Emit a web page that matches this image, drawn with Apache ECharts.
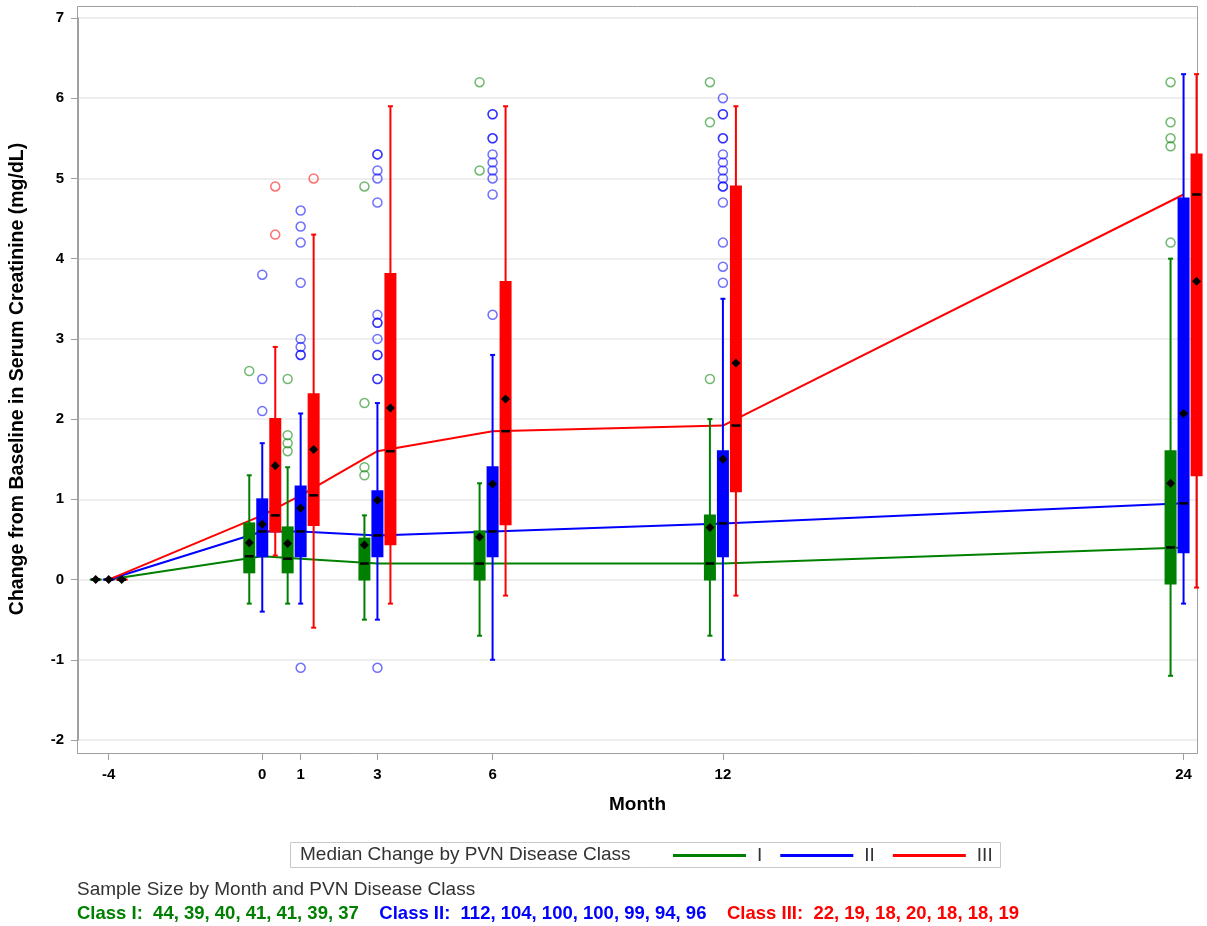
<!DOCTYPE html>
<html>
<head>
<meta charset="utf-8">
<title>Change from Baseline in Serum Creatinine</title>
<script src="https://cdn.jsdelivr.net/npm/echarts@6/dist/echarts.min.js"></script>
<style>
  html, body { margin: 0; padding: 0; background: #fff; }
  #main { width: 1207px; height: 926px; }
</style>
</head>
<body>
<div id="main"></div>
<script>
// months on the x axis (ticks too)
let months = [-4, 0, 1, 3, 6, 12, 24];

// box stats per month: [low whisker, q1, median, q3, high whisker, mean]
let boxI = [
    [0, 0, 0, 0, 0, 0],
    [-0.3, 0.09, 0.29, 0.70, 1.3, 0.46],
    [-0.3, 0.09, 0.26, 0.65, 1.4, 0.45],
    [-0.5, 0.0, 0.20, 0.51, 0.8, 0.43],
    [-0.7, 0.0, 0.20, 0.60, 1.2, 0.53],
    [-0.7, 0.0, 0.20, 0.80, 2.0, 0.65],
    [-1.2, -0.05, 0.40, 1.60, 4.0, 1.20]
];
let boxII = [
    [0, 0, 0, 0, 0, 0],
    [-0.4, 0.29, 0.60, 1.00, 1.7, 0.69],
    [-0.3, 0.29, 0.60, 1.16, 2.07, 0.89],
    [-0.5, 0.29, 0.55, 1.10, 2.2, 0.99],
    [-1.0, 0.29, 0.60, 1.40, 2.8, 1.19],
    [-1.0, 0.29, 0.70, 1.60, 3.5, 1.50],
    [-0.3, 0.34, 0.95, 4.75, 6.3, 2.07]
];
let boxIII = [
    [0, 0, 0, 0, 0, 0],
    [0.3, 0.60, 0.80, 2.00, 2.9, 1.42],
    [-0.6, 0.68, 1.05, 2.31, 4.3, 1.62],
    [-0.3, 0.44, 1.60, 3.81, 5.9, 2.14],
    [-0.2, 0.69, 1.85, 3.71, 5.9, 2.25],
    [-0.2, 1.10, 1.92, 4.90, 5.9, 2.70],
    [-0.1, 1.30, 4.80, 5.30, 6.3, 3.72]
];

// outliers [month, value]
let outI = [[0, 2.6], [1, 2.5], [1, 1.8], [1, 1.7], [1, 1.6],
    [3, 4.9], [3, 2.2], [3, 1.4], [3, 1.3], [6, 6.2], [6, 5.1],
    [12, 6.2], [12, 5.7], [12, 2.5],
    [24, 6.2], [24, 5.7], [24, 5.5], [24, 5.4], [24, 4.2]];
let outII = [[0, 3.8], [0, 2.5], [0, 2.1],
    [1, 4.6], [1, 4.4], [1, 4.2], [1, 3.7], [1, 3.0], [1, 2.9], [1, 2.8], [1, 2.8], [1, -1.1],
    [3, 5.3], [3, 5.3], [3, 5.1], [3, 5.0], [3, 4.7], [3, 3.3], [3, 3.2], [3, 3.2], [3, 3.0],
    [3, 2.8], [3, 2.8], [3, 2.5], [3, 2.5], [3, -1.1],
    [6, 5.8], [6, 5.8], [6, 5.5], [6, 5.5], [6, 5.3], [6, 5.2], [6, 5.1], [6, 5.0], [6, 4.8], [6, 3.3],
    [12, 6.0], [12, 5.8], [12, 5.8], [12, 5.5], [12, 5.5], [12, 5.3], [12, 5.2], [12, 5.1],
    [12, 5.0], [12, 4.9], [12, 4.9], [12, 4.7], [12, 4.2], [12, 3.9], [12, 3.7]];
let outIII = [[0, 4.9], [0, 4.3], [1, 5.0]];

// sample size by month
let nI = [44, 39, 40, 41, 41, 39, 37];
let nII = [112, 104, 100, 100, 99, 94, 96];
let nIII = [22, 19, 18, 20, 18, 18, 19];

let classNames = ['I', 'II', 'III'];
let colors = ['#008000', '#0000ff', '#ff0000'];
let ringColors = ['rgba(0,128,0,0.7)', 'rgba(0,0,255,0.7)', 'rgba(255,0,0,0.7)'];
let offsets = [-13, 0, 13];
let font = "'Liberation Sans', Arial, sans-serif";

function boxData(stats) {
    return stats.map(function (s, i) {
        return [months[i]].concat(s);
    });
}
function medianLine(stats) {
    return stats.map(function (s, i) {
        return [months[i], s[2]];
    });
}

function boxRender(offset, color) {
    return function (params, api) {
        let x = api.coord([api.value(0), 0])[0] + offset;
        let yLow = api.coord([0, api.value(1)])[1];
        let yQ1 = api.coord([0, api.value(2)])[1];
        let yMed = api.coord([0, api.value(3)])[1];
        let yQ3 = api.coord([0, api.value(4)])[1];
        let yHigh = api.coord([0, api.value(5)])[1];
        let yMean = api.coord([0, api.value(6)])[1];
        let w = 12, d = 4.5;
        return {
            type: 'group',
            children: [
                {type: 'line', shape: {x1: x, y1: yLow, x2: x, y2: yHigh}, style: {stroke: color, lineWidth: 2}},
                {type: 'line', shape: {x1: x - 2.5, y1: yLow, x2: x + 2.5, y2: yLow}, style: {stroke: color, lineWidth: 2}},
                {type: 'line', shape: {x1: x - 2.5, y1: yHigh, x2: x + 2.5, y2: yHigh}, style: {stroke: color, lineWidth: 2}},
                {type: 'rect', shape: {x: x - w / 2, y: yQ3 - 1, width: w, height: yQ1 - yQ3 + 2},
                    style: {fill: color}},
                {type: 'line', shape: {x1: x - 4.5, y1: yMed, x2: x + 4.5, y2: yMed}, style: {stroke: '#000', lineWidth: 2.5}},
                {type: 'polygon', shape: {points: [[x, yMean - d], [x + d, yMean], [x, yMean + d], [x - d, yMean]]},
                    style: {fill: '#000'}}
            ]
        };
    };
}

let allBoxes = [boxI, boxII, boxIII];
let allOut = [outI, outII, outIII];
let series = [];

for (let k = 0; k < 3; k++) {
    series.push({
        name: classNames[k],
        type: 'line',
        data: medianLine(allBoxes[k]),
        symbol: 'none',
        z: 2,
        lineStyle: {color: colors[k], width: 2},
        itemStyle: {color: colors[k]}
    });
}
for (let k = 0; k < 3; k++) {
    series.push({
        type: 'custom',
        renderItem: boxRender(offsets[k], colors[k]),
        data: boxData(allBoxes[k]),
        encode: {x: 0, y: [1, 2, 3, 4, 5, 6]},
        z: 3
    });
}
for (let k = 0; k < 3; k++) {
    series.push({
        type: 'scatter',
        data: allOut[k],
        symbol: 'circle',
        symbolSize: 9,
        symbolOffset: [offsets[k], 0],
        z: 4,
        itemStyle: {color: 'rgba(0,0,0,0)', borderColor: ringColors[k], borderWidth: 1.5}
    });
}

let chart = echarts.init(document.getElementById('main'));
let option = {
    animation: false,
    backgroundColor: '#fff',
    textStyle: {fontFamily: font},
    grid: {left: 77, right: 10, top: 18, bottom: 186},
    xAxis: {
        type: 'value',
        min: -4.8,
        max: 24.35,
        offset: 13,
        name: 'Month',
        nameLocation: 'middle',
        nameGap: 42,
        nameTextStyle: {fontSize: 19, fontWeight: 'bold', color: '#000', fontFamily: font},
        axisLine: {show: true, onZero: false, lineStyle: {color: '#a0a0a0'}},
        axisTick: {show: true, length: 7, customValues: months, lineStyle: {color: '#a0a0a0'}},
        axisLabel: {customValues: months, margin: 14, fontSize: 15, fontWeight: 'bold', color: '#000', fontFamily: font},
        splitLine: {show: false}
    },
    yAxis: {
        type: 'value',
        min: -2,
        max: 7,
        interval: 1,
        name: 'Change from Baseline in Serum Creatinine (mg/dL)',
        nameLocation: 'middle',
        nameGap: 50,
        nameTextStyle: {fontSize: 19.5, fontWeight: 'bold', color: '#000', fontFamily: font},
        axisLine: {show: true, onZero: false, lineStyle: {color: '#a0a0a0'}},
        axisTick: {show: true, length: 7, lineStyle: {color: '#a0a0a0'}},
        axisLabel: {margin: 14, fontSize: 15, fontWeight: 'bold', color: '#000', fontFamily: font},
        splitLine: {show: true, lineStyle: {color: '#e8e8e8', width: 1.5}}
    },
    legend: {
        data: classNames.map(function (n) { return {name: n, icon: 'rect'}; }),
        left: 668,
        top: 841,
        itemWidth: 73,
        itemHeight: 3,
        itemGap: 18,
        textStyle: {fontSize: 19, color: '#333', fontFamily: font, padding: [0, 0, 0, 6]}
    },
    graphic: [
        {type: 'rect', z: 0, silent: true,
            shape: {x: 77.5, y: 6.5, width: 1120, height: 747},
            style: {fill: 'none', stroke: '#a0a0a0', lineWidth: 1}},
        {type: 'rect', silent: true,
            shape: {x: 290.5, y: 842.5, width: 710, height: 25},
            style: {fill: 'none', stroke: '#c8c8c8', lineWidth: 1}},
        {type: 'text', left: 300, top: 845, silent: true,
            style: {text: 'Median Change by PVN Disease Class', fontSize: 19, fill: '#333', fontFamily: font}},
        {type: 'text', left: 77, top: 880, silent: true,
            style: {text: 'Sample Size by Month and PVN Disease Class', fontSize: 19, fill: '#333', fontFamily: font}},
        {type: 'text', left: 77, top: 904, silent: true,
            style: {
                text: '{a|Class I:  ' + nI.join(', ') + '}{s|    }{b|Class II:  ' + nII.join(', ') + '}{s|    }{c|Class III:  ' + nIII.join(', ') + '}',
                fontFamily: font,
                rich: {
                    a: {fontSize: 18.5, fontWeight: 'bold', fill: '#008000', fontFamily: font},
                    b: {fontSize: 18.5, fontWeight: 'bold', fill: '#0000ff', fontFamily: font},
                    c: {fontSize: 18.5, fontWeight: 'bold', fill: '#ff0000', fontFamily: font},
                    s: {fontSize: 18.5, fontFamily: font}
                }
            }}
    ],
    series: series
};
chart.setOption(option);
</script>
</body>
</html>
